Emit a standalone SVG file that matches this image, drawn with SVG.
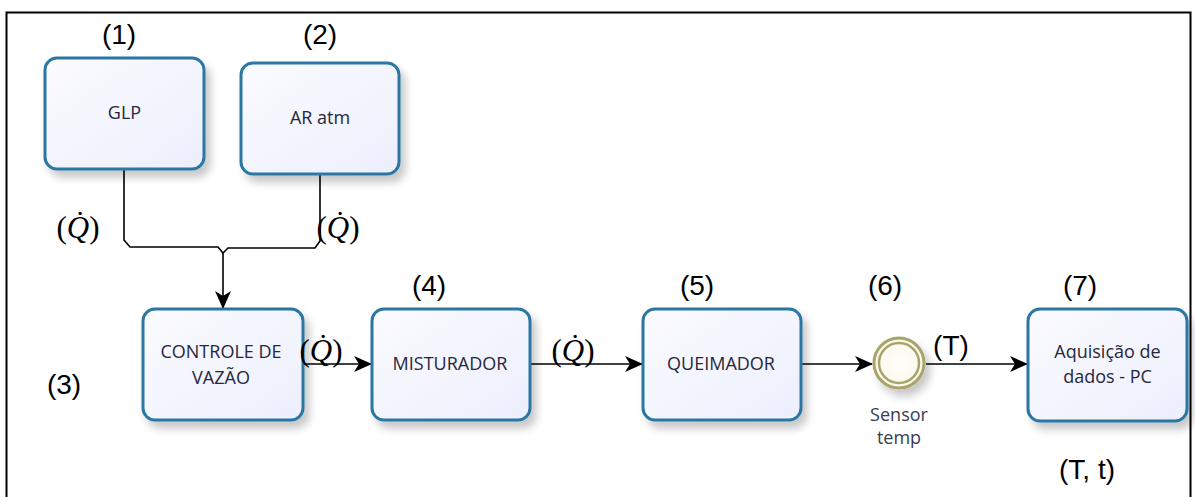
<svg xmlns="http://www.w3.org/2000/svg" width="1195" height="497" viewBox="0 0 1195 497">
  <defs>
    <linearGradient id="boxFill" x1="0" y1="0" x2="1" y2="1">
      <stop offset="0" stop-color="#fbfbff"/>
      <stop offset="1" stop-color="#eceffc"/>
    </linearGradient>
    <radialGradient id="eventFill" cx="0.5" cy="0.5" r="0.5">
      <stop offset="0" stop-color="#fffefa"/>
      <stop offset="1" stop-color="#fbf8ea"/>
    </radialGradient>
    <filter id="shadow" x="-20%" y="-20%" width="150%" height="160%">
      <feGaussianBlur in="SourceAlpha" stdDeviation="4"/>
      <feOffset dx="5" dy="7" result="off"/>
      <feComponentTransfer><feFuncA type="linear" slope="0.22"/></feComponentTransfer>
      <feMerge><feMergeNode/><feMergeNode in="SourceGraphic"/></feMerge>
    </filter>
    <marker id="arrow" viewBox="0 0 18 18" refX="17" refY="9" markerWidth="18" markerHeight="18" markerUnits="userSpaceOnUse" orient="auto">
      <path d="M0,1 L18,9 L0,17 L5,9 Z" fill="#000"/>
    </marker>
  </defs>
  <style>
    .box { fill: url(#boxFill); stroke: #2b77a3; stroke-width: 3; }
    .lbl { font-family: "Open Sans", "Noto Sans", "DejaVu Sans", sans-serif; font-size: 18px; fill: #26263c; text-anchor: middle; }
    .cap { font-family: "Open Sans", "Noto Sans", "DejaVu Sans", sans-serif; font-size: 18px; fill: #353c55; text-anchor: middle; }
    .num { font-family: "Liberation Sans", Arial, sans-serif; font-size: 28px; fill: #000; text-anchor: middle; }
    .math { font-family: "Liberation Serif", "Times New Roman", serif; font-size: 31px; fill: #000; text-anchor: middle; }
    .flow { fill: none; stroke: #000; stroke-width: 1.6; }
  </style>

  <rect width="1195" height="497" fill="#fff"/>
  <!-- outer frame -->
  <path d="M6.5,497 V12.5 H1190.5 V497" fill="none" stroke="#000" stroke-width="2"/>

  <!-- connectors -->
  <g id="connectors">
    <path class="flow" d="M124,169 V240 L130,247 H218 L223,253 L228,248 H315 L320,241 V174"/>
    <path class="flow" d="M223,253 V308" marker-end="url(#arrow)"/>
    <path class="flow" d="M303,364 H371" marker-end="url(#arrow)"/>
    <path class="flow" d="M530,364 H642" marker-end="url(#arrow)"/>
    <path class="flow" d="M801,364 H872" marker-end="url(#arrow)"/>
    <path class="flow" d="M926,364 H1027" marker-end="url(#arrow)"/>
  </g>

  <g id="node-glp">
    <rect class="box" x="45" y="58" width="159" height="111" rx="12" filter="url(#shadow)"/>
    <text class="lbl" x="124.5" y="119">GLP</text>
  </g>
  <g id="node-ar">
    <rect class="box" x="241" y="63" width="158" height="111" rx="12" filter="url(#shadow)"/>
    <text class="lbl" x="320" y="124">AR atm</text>
  </g>
  <g id="node-controle">
    <rect class="box" x="143" y="309" width="160" height="111" rx="12" filter="url(#shadow)"/>
    <text class="lbl" x="221" y="358">CONTROLE DE</text>
    <text class="lbl" x="221" y="384">VAZÃO</text>
  </g>
  <g id="node-misturador">
    <rect class="box" x="372" y="309" width="158" height="111" rx="12" filter="url(#shadow)"/>
    <text class="lbl" x="450" y="370">MISTURADOR</text>
  </g>
  <g id="node-queimador">
    <rect class="box" x="643" y="309" width="158" height="111" rx="12" filter="url(#shadow)"/>
    <text class="lbl" x="721" y="370">QUEIMADOR</text>
  </g>
  <g id="node-sensor">
    <circle cx="899" cy="363" r="25" fill="url(#eventFill)" stroke="#a8a46c" stroke-width="3" filter="url(#shadow)"/>
    <circle cx="899" cy="363" r="20" fill="none" stroke="#a8a46c" stroke-width="2.5"/>
    <text class="cap" x="899" y="421">Sensor</text>
    <text class="cap" x="899" y="444">temp</text>
  </g>
  <g id="node-aquisicao">
    <rect class="box" x="1028" y="309" width="159" height="112" rx="12" filter="url(#shadow)"/>
    <text class="lbl" x="1107.5" y="358">Aquisição de</text>
    <text class="lbl" x="1107.5" y="383">dados - PC</text>
  </g>

  <!-- numbering and signal labels -->
  <g id="labels">
    <text class="num" x="119" y="44">(1)</text>
    <text class="num" x="320" y="44">(2)</text>
    <text class="num" x="64" y="394">(3)</text>
    <text class="num" x="429" y="295">(4)</text>
    <text class="num" x="697" y="295">(5)</text>
    <text class="num" x="885" y="295">(6)</text>
    <text class="num" x="1080" y="295">(7)</text>
    <text class="num" x="951" y="355">(T)</text>
    <text class="num" x="1087" y="479" font-size="29">(T, t)</text>
    <text class="math" x="78" y="238">(<tspan font-style="italic">Q&#x307;</tspan>)</text>
    <text class="math" x="338" y="238">(<tspan font-style="italic">Q&#x307;</tspan>)</text>
    <text class="math" x="321" y="361">(<tspan font-style="italic">Q&#x307;</tspan>)</text>
    <text class="math" x="573" y="361">(<tspan font-style="italic">Q&#x307;</tspan>)</text>
  </g>
</svg>
